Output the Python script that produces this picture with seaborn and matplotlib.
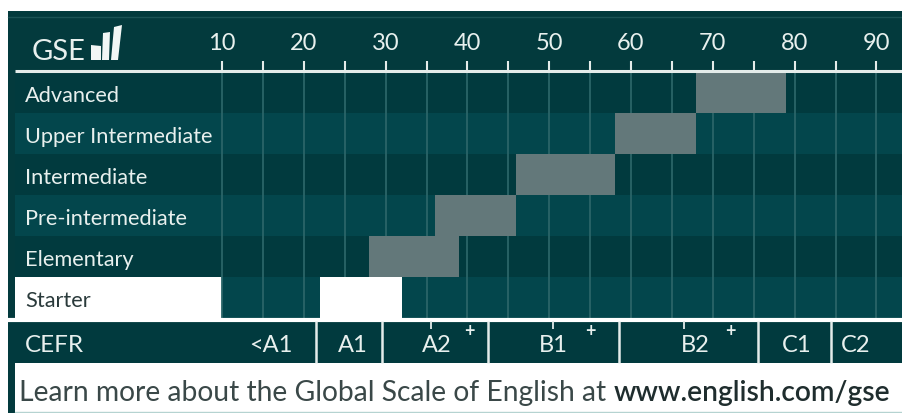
import numpy as np
import pandas as pd
import matplotlib
matplotlib.use("Agg")
import matplotlib.pyplot as plt
from matplotlib.patches import Rectangle, Polygon
import seaborn as sns

# ---------------- data ----------------
levels = ["Advanced", "Upper Intermediate", "Intermediate",
          "Pre-intermediate", "Elementary", "Starter"]
gse_start = [68, 58, 46, 36, 28, 22]
gse_end = [79, 68, 58, 46, 39, 32]

gse_major = [10, 20, 30, 40, 50, 60, 70, 80, 90]
gse_minor = [15, 25, 35, 45, 55, 65, 75, 85]

cefr_labels = ["<A1", "A1", "A2", "B1", "B2", "C1", "C2"]
cefr_label_pos = [16, 26, 36.2, 50.5, 67.8, 80.2, 87.5]
cefr_bounds = [21.5, 29.5, 42.5, 58.5, 75.5, 84.5]
cefr_plus_pos = [40.2, 55.0, 72.2]
cefr_plus_ticks = [35.5, 50.5, 66.5]

header_title = "GSE"
row_title = "CEFR"
footer_regular = "Learn more about the Global Scale of English at "
footer_bold = "www.english.com/gse"

# ---------------- style ----------------
sns.set_style("white")
plt.rcParams["font.family"] = ["Lato", "DejaVu Sans"]

FRAME = "#033a3d"
ROW_DARK = "#013a3e"
ROW_LIGHT = "#03464c"
GRID = "#2a6568"
BAR = "#5f7b7e"
LINE = "#e4ecea"
TXT_L = "#e8f0ee"
TXT_D = "#2a3a3b"
highlight = {"Starter": "white"}

W, H = 902, 414
fig = plt.figure(figsize=(W / 100, H / 100), dpi=100)
fig.patch.set_facecolor("white")
ax = fig.add_axes([0, 0, 1, 1])

# layout helpers (pixel -> data), used only for decoration placement
PX10, PXU = 222.0, 8.18
ROW_TOP, ROW_H = 73.0, 41.0
def gx(px):
    return 10 + (px - PX10) / PXU
def gy(py):
    return (py - ROW_TOP) / ROW_H - 0.5

df = pd.DataFrame({"level": levels, "start": gse_start, "end": gse_end})
df["span"] = df["end"] - df["start"]

# bars
sns.barplot(data=df, x="span", y="level", left=df["start"].values, orient="h",
            width=1.0, color=BAR, errorbar=None, linewidth=0, zorder=4, ax=ax)
for p, lv in zip(ax.patches, df["level"]):
    if lv in highlight:
        p.set_facecolor(highlight[lv])

ax.set_xlim(gx(0), gx(W))
ax.set_ylim(gy(H), gy(0))
ax.axis("off")

# frame
ax.add_patch(Rectangle((gx(8), gy(12)), gx(W) - gx(8), gy(364) - gy(12),
                       facecolor=FRAME, edgecolor="none", zorder=0))
ax.add_patch(Rectangle((gx(8), gy(364)), gx(15) - gx(8), gy(H) - gy(364),
                       facecolor=FRAME, edgecolor="none", zorder=0))
ax.plot([gx(8), gx(W)], [gy(18), gy(18)], color="#1b5355", lw=1, zorder=1)

# row stripes
for i, lv in enumerate(levels):
    c = ROW_DARK if i % 2 == 0 else ROW_LIGHT
    ax.add_patch(Rectangle((gx(15), i - 0.5), gx(W) - gx(15), 1.0,
                           facecolor=c, edgecolor="none", zorder=1))
# starter label area white
si = levels.index("Starter")
ax.add_patch(Rectangle((gx(15), si - 0.5), 10 - gx(15), 1.0,
                       facecolor="white", edgecolor="none", zorder=2))

# grid lines
allticks = sorted(gse_major + gse_minor)
ax.vlines(allticks, -0.5, len(levels) - 0.5, color=GRID, lw=1.3, zorder=2)

# header axis line & ticks
ax.plot([gx(15), gx(W)], [gy(72), gy(72)], color=LINE, lw=2.2, zorder=5,
        solid_capstyle="butt")
ax.vlines(allticks, gy(62), gy(72), color=LINE, lw=1.5, zorder=5)
for t in gse_major:
    ax.text(t, gy(50), f"{t}", ha="center", va="baseline", fontsize=17,
            color=TXT_L, zorder=6)

# GSE title & icon
ax.text(gx(32), gy(60), header_title, ha="left", va="baseline", fontsize=21,
        color=TXT_L, zorder=6)
icon = [
    [(91, 61), (101, 61), (101, 47), (91, 46)],
    [(102, 61), (109, 61), (110, 33), (103, 34)],
    [(111, 61), (118, 61), (122, 26), (114, 28)],
]
for poly in icon:
    ax.add_patch(Polygon([(gx(a), gy(b)) for a, b in poly], closed=True,
                         facecolor="#f2f6f5", edgecolor="none", zorder=6))

# row labels
for i, lv in enumerate(levels):
    ax.text(gx(25), i + 0.21, lv, ha="left", va="baseline", fontsize=15.7,
            color=TXT_D if lv in highlight else TXT_L, zorder=6)

# separator + CEFR row
ax.plot([gx(8), gx(W)], [gy(320.5), gy(320.5)], color="white", lw=3, zorder=5,
        solid_capstyle="butt")
ax.add_patch(Rectangle((gx(8), gy(322)), gx(W) - gx(8), gy(364) - gy(322),
                       facecolor=ROW_DARK, edgecolor="none", zorder=1))
ax.vlines(cefr_bounds, gy(322), gy(364), color=LINE, lw=1.8, zorder=5)
ax.vlines(cefr_plus_ticks, gy(322), gy(330), color=LINE, lw=1.3, zorder=5)
ax.text(gx(25), gy(352), row_title, ha="left", va="baseline", fontsize=17.5,
        color=TXT_L, zorder=6)
for lab, pos in zip(cefr_labels, cefr_label_pos):
    ax.text(pos, gy(352), lab, ha="center", va="baseline", fontsize=17,
            color=TXT_L, zorder=6)
for pos in cefr_plus_pos:
    ax.text(pos, gy(337), "+", ha="center", va="baseline", fontsize=13,
            fontweight="bold", color=TXT_L, zorder=6)

# footer
t1 = ax.text(gx(19), gy(401), footer_regular, ha="left", va="baseline",
             fontsize=20.3, color="#3a4848", zorder=6)
ax.annotate(footer_bold, xy=(1, 0), xycoords=t1, ha="left", va="bottom",
            fontsize=20.3, color="#1f2d2e", fontweight="semibold", zorder=6)
ax.plot([gx(15), gx(W)], [gy(412.5), gy(412.5)], color="#b5d3d1", lw=1, zorder=5)

fig.savefig("out.png", dpi=100, facecolor="white")
